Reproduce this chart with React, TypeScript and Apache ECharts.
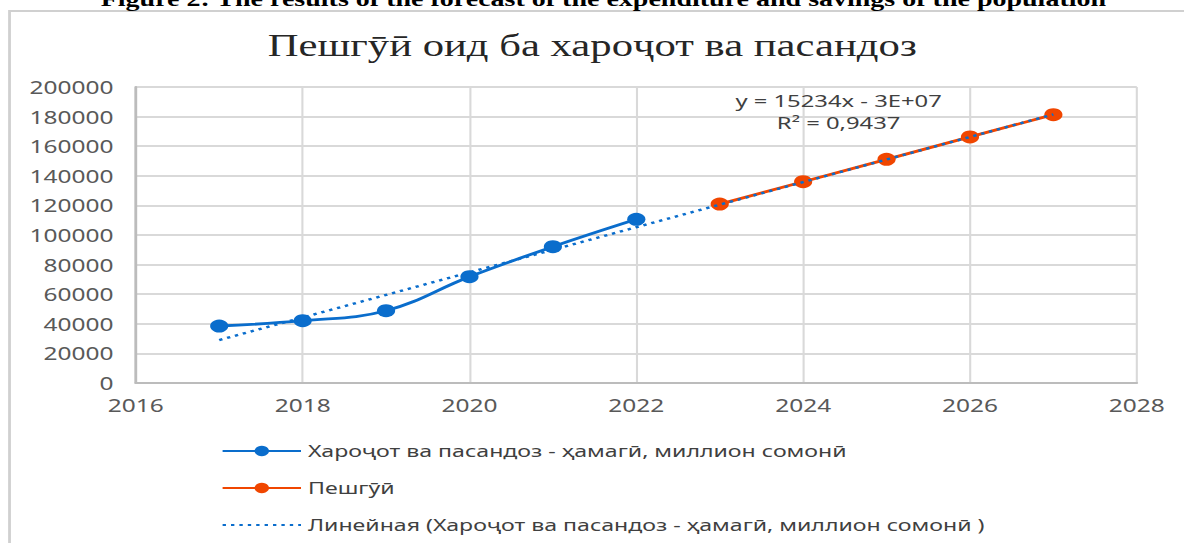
import React, { useEffect, useRef } from "react";
import * as echarts from "echarts";

// ---- data ----
const actualYears = [2017, 2018, 2019, 2020, 2021, 2022];
const actualValues = [38500, 42100, 48850, 71800, 92100, 110600];
const forecastYears = [2023, 2024, 2025, 2026, 2027];
const forecastValues = [120900, 136000, 151100, 166300, 181300];
const trendYears = [2017, 2027];
const trendValues = [29000, 181500];

const xMin = 2016;
const xMax = 2028;
const xStep = 2;
const yMin = 0;
const yMax = 200000;
const yStep = 20000;

const titleText = "Пешгӯӣ оид ба хароҷот ва пасандоз";
const captionText =
  "Figure 2: The results of the forecast of the expenditure and savings of the population";
const seriesActualName = "Хароҷот ва пасандоз - ҳамагӣ, миллион сомонӣ";
const seriesForecastName = "Пешгӯӣ";
const seriesTrendName = "Линейная (Хароҷот ва пасандоз - ҳамагӣ, миллион сомонӣ )";
const equationLine1 = "y = 15234x - 3E+07";
const equationLine2 = "R² = 0,9437";

// horizontal stretch of the reference picture
const STRETCH = 1.4;
const PAGE_W = 1184;
const PAGE_H = 543;
const W = PAGE_W / STRETCH;

const BLUE = "#0A6DCC";
const ORANGE = "#F04600";

export default function App() {
  const ref = useRef<HTMLDivElement>(null);

  useEffect(() => {
    if (!ref.current) return;
    const chart = echarts.init(ref.current, undefined, { renderer: "svg" });
    const sans = "Noto Sans";
    const option: any = {
      animation: false,
      backgroundColor: "#ffffff",
      title: {
        text: titleText,
        left: "center",
        top: 25,
        textStyle: {
          fontFamily: "Liberation Serif",
          fontSize: 30.5,
          fontWeight: "normal",
          color: "#262626",
        },
      },
      grid: {
        left: 97,
        top: 87,
        width: 715,
        height: 296,
        containLabel: false,
      },
      xAxis: {
        type: "value",
        min: xMin,
        max: xMax,
        interval: xStep,
        axisLine: { show: true, lineStyle: { color: "#bcbcbc", width: 2 } },
        axisTick: { show: false },
        splitLine: { show: true, lineStyle: { color: "#d9d9d9", width: 1.5 } },
        axisLabel: {
          margin: 13,
          fontFamily: sans,
          fontSize: 17.5,
          color: "#595959",
          formatter: (v: number) => String(v),
        },
      },
      yAxis: {
        type: "value",
        min: yMin,
        max: yMax,
        interval: yStep,
        axisLine: { show: true, lineStyle: { color: "#bcbcbc", width: 2 } },
        axisTick: { show: false },
        splitLine: { show: true, lineStyle: { color: "#d9d9d9", width: 2 } },
        axisLabel: {
          margin: 16,
          fontFamily: sans,
          fontSize: 17.5,
          color: "#595959",
          formatter: (v: number) => String(v),
        },
      },
      legend: {
        orient: "vertical",
        left: 158,
        top: 442,
        padding: 0,
        itemWidth: 56,
        itemHeight: 13,
        itemGap: 19,
        textStyle: {
          fontFamily: sans,
          fontSize: 16.5,
          color: "#404040",
          lineHeight: 18,
        },
        data: [
          { name: seriesActualName },
          { name: seriesForecastName },
          { name: seriesTrendName, itemStyle: { opacity: 0 } },
        ],
      },
      series: [
        {
          name: seriesActualName,
          type: "line",
          smooth: 0.4,
          data: actualYears.map((y, i) => [y, actualValues[i]]),
          symbol: "circle",
          symbolSize: 13,
          itemStyle: { color: BLUE },
          lineStyle: { color: BLUE, width: 2.8 },
          z: 3,
        },
        {
          name: seriesForecastName,
          type: "line",
          data: forecastYears.map((y, i) => [y, forecastValues[i]]),
          symbol: "circle",
          symbolSize: 13,
          itemStyle: { color: ORANGE },
          lineStyle: { color: ORANGE, width: 2.8 },
          z: 3,
        },
        {
          name: seriesTrendName,
          type: "line",
          data: trendYears.map((y, i) => [y, trendValues[i]]),
          symbol: "none",
          lineStyle: { color: BLUE, width: 2.4, type: [2.4, 3.6] },
          itemStyle: { color: BLUE },
          z: 5,
        },
      ],
      graphic: [
        {
          type: "rect",
          shape: { x: 6.8, y: 11, width: W + 50, height: PAGE_H + 50 },
          style: { fill: "none", stroke: "#d0d0d0", lineWidth: 2 },
          silent: true,
          z: 0,
        },
        {
          type: "text",
          x: 431,
          y: 9,
          style: {
            text: captionText,
            fontFamily: "Liberation Serif",
            fontSize: 20,
            fontWeight: "bold",
            fill: "#000000",
            align: "center",
            verticalAlign: "bottom",
          },
          z: 10,
        },
        {
          type: "text",
          x: 599,
          y: 100,
          style: {
            text: equationLine1,
            fontFamily: sans,
            fontSize: 17,
            fill: "#404040",
            align: "center",
            verticalAlign: "middle",
          },
          z: 10,
        },
        {
          type: "text",
          x: 599,
          y: 122,
          style: {
            text: equationLine2,
            fontFamily: sans,
            fontSize: 17,
            fill: "#404040",
            align: "center",
            verticalAlign: "middle",
          },
          z: 10,
        },
      ],
    };
    chart.setOption(option);
    return () => {
      chart.dispose();
    };
  }, []);

  return (
    <div
      ref={ref}
      style={{
        position: "absolute",
        left: 0,
        top: 0,
        width: W,
        height: PAGE_H,
        transform: `scaleX(${STRETCH})`,
        transformOrigin: "0 0",
        overflow: "hidden",
      }}
    />
  );
}
